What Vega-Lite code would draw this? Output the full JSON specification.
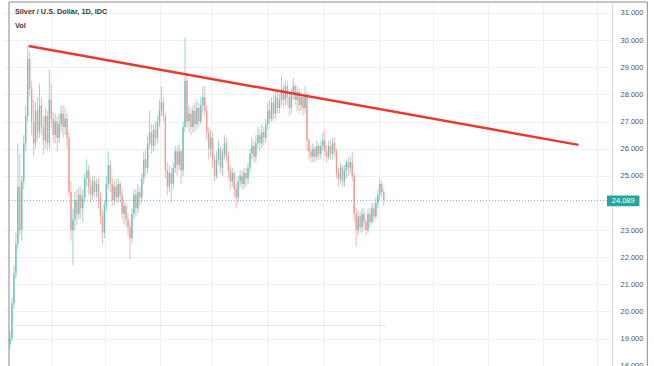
{
  "$schema": "https://vega.github.io/schema/vega-lite/v6.json",
  "width": 608,
  "height": 364,
  "autosize": "none",
  "padding": {"left": 4, "top": 2, "right": 42, "bottom": 0},
  "background": "white",
  "config": {"view": {"stroke": null}, "font": "Liberation Sans"},
  "resolve": {"axis": {"x": "independent", "y": "independent"}},
  "datasets": {
    "candles": [
      {"t":0,"o":18.8,"h":19.3,"l":18.6,"c":19.0},
      {"t":1,"o":19.0,"h":20.5,"l":18.9,"c":20.3},
      {"t":2,"o":20.3,"h":21.7,"l":20.1,"c":21.4},
      {"t":3,"o":21.4,"h":22.9,"l":21.2,"c":22.5},
      {"t":4,"o":22.5,"h":26.2,"l":22.3,"c":24.6},
      {"t":5,"o":24.6,"h":25.8,"l":22.8,"c":23.0},
      {"t":6,"o":23.0,"h":25.0,"l":22.6,"c":24.8},
      {"t":7,"o":24.8,"h":26.5,"l":24.5,"c":26.2},
      {"t":8,"o":26.2,"h":27.6,"l":25.9,"c":27.2},
      {"t":9,"o":27.2,"h":29.8,"l":27.0,"c":29.3},
      {"t":10,"o":29.3,"h":29.6,"l":27.9,"c":28.2},
      {"t":11,"o":28.2,"h":28.5,"l":26.5,"c":27.0},
      {"t":12,"o":27.0,"h":27.8,"l":25.7,"c":26.2},
      {"t":13,"o":26.2,"h":27.7,"l":26.0,"c":27.4},
      {"t":14,"o":27.4,"h":27.9,"l":26.3,"c":26.6},
      {"t":15,"o":26.6,"h":28.4,"l":26.4,"c":27.6},
      {"t":16,"o":27.6,"h":27.9,"l":26.5,"c":26.8},
      {"t":17,"o":26.8,"h":27.2,"l":25.8,"c":26.3},
      {"t":18,"o":26.3,"h":27.5,"l":26.0,"c":27.2},
      {"t":19,"o":27.2,"h":27.4,"l":25.9,"c":26.2},
      {"t":20,"o":26.2,"h":28.9,"l":26.0,"c":27.8},
      {"t":21,"o":27.8,"h":28.4,"l":26.8,"c":27.1},
      {"t":22,"o":27.1,"h":27.4,"l":26.2,"c":26.5},
      {"t":23,"o":26.5,"h":27.3,"l":26.2,"c":27.0},
      {"t":24,"o":27.0,"h":27.2,"l":25.9,"c":26.4},
      {"t":25,"o":26.4,"h":27.3,"l":26.2,"c":26.9},
      {"t":26,"o":26.9,"h":27.6,"l":26.6,"c":27.3},
      {"t":27,"o":27.3,"h":27.6,"l":26.4,"c":26.8},
      {"t":28,"o":26.8,"h":27.5,"l":26.5,"c":27.1},
      {"t":29,"o":27.1,"h":27.3,"l":26.0,"c":26.4},
      {"t":30,"o":26.4,"h":26.6,"l":24.2,"c":24.4},
      {"t":31,"o":24.4,"h":24.8,"l":22.6,"c":23.0},
      {"t":32,"o":23.0,"h":23.8,"l":21.7,"c":23.4},
      {"t":33,"o":23.4,"h":24.4,"l":23.0,"c":24.1},
      {"t":34,"o":24.1,"h":24.5,"l":23.2,"c":23.6},
      {"t":35,"o":23.6,"h":24.6,"l":23.4,"c":24.3},
      {"t":36,"o":24.3,"h":24.6,"l":23.4,"c":23.8},
      {"t":37,"o":23.8,"h":24.5,"l":23.3,"c":24.2},
      {"t":38,"o":24.2,"h":25.1,"l":24.0,"c":24.9},
      {"t":39,"o":24.9,"h":25.6,"l":24.6,"c":25.2},
      {"t":40,"o":25.2,"h":25.4,"l":24.3,"c":24.6},
      {"t":41,"o":24.6,"h":24.9,"l":24.0,"c":24.3},
      {"t":42,"o":24.3,"h":25.0,"l":24.1,"c":24.8},
      {"t":43,"o":24.8,"h":25.0,"l":24.2,"c":24.4},
      {"t":44,"o":24.4,"h":24.9,"l":24.2,"c":24.7},
      {"t":45,"o":24.7,"h":24.9,"l":23.8,"c":24.2},
      {"t":46,"o":24.2,"h":24.4,"l":23.2,"c":23.5},
      {"t":47,"o":23.5,"h":23.7,"l":22.5,"c":22.9},
      {"t":48,"o":22.9,"h":24.1,"l":22.7,"c":23.9},
      {"t":49,"o":23.9,"h":25.0,"l":23.7,"c":24.7},
      {"t":50,"o":24.7,"h":25.9,"l":24.5,"c":25.4},
      {"t":51,"o":25.4,"h":25.6,"l":24.4,"c":24.7},
      {"t":52,"o":24.7,"h":24.9,"l":23.9,"c":24.1},
      {"t":53,"o":24.1,"h":24.8,"l":23.9,"c":24.6},
      {"t":54,"o":24.6,"h":24.9,"l":24.0,"c":24.2},
      {"t":55,"o":24.2,"h":24.9,"l":24.0,"c":24.7},
      {"t":56,"o":24.7,"h":24.8,"l":24.0,"c":24.3},
      {"t":57,"o":24.3,"h":24.5,"l":23.4,"c":23.6},
      {"t":58,"o":23.6,"h":24.1,"l":23.2,"c":23.9},
      {"t":59,"o":23.9,"h":24.0,"l":23.1,"c":23.4},
      {"t":60,"o":23.4,"h":23.6,"l":22.8,"c":23.1},
      {"t":61,"o":23.1,"h":23.3,"l":21.9,"c":22.7},
      {"t":62,"o":22.7,"h":23.8,"l":22.5,"c":23.6},
      {"t":63,"o":23.6,"h":24.5,"l":23.4,"c":24.3},
      {"t":64,"o":24.3,"h":24.5,"l":23.5,"c":23.8},
      {"t":65,"o":23.8,"h":24.7,"l":23.6,"c":24.4},
      {"t":66,"o":24.4,"h":24.6,"l":23.9,"c":24.2},
      {"t":67,"o":24.2,"h":25.1,"l":24.0,"c":24.9},
      {"t":68,"o":24.9,"h":25.9,"l":24.7,"c":25.6},
      {"t":69,"o":25.6,"h":26.0,"l":25.0,"c":25.3},
      {"t":70,"o":25.3,"h":26.5,"l":25.1,"c":26.2},
      {"t":71,"o":26.2,"h":27.4,"l":26.0,"c":26.6},
      {"t":72,"o":26.6,"h":26.9,"l":25.8,"c":26.1},
      {"t":73,"o":26.1,"h":26.9,"l":25.9,"c":26.7},
      {"t":74,"o":26.7,"h":27.0,"l":26.1,"c":26.4},
      {"t":75,"o":26.4,"h":27.2,"l":26.2,"c":27.0},
      {"t":76,"o":27.0,"h":27.8,"l":26.8,"c":27.4},
      {"t":77,"o":27.4,"h":28.3,"l":27.2,"c":27.7},
      {"t":78,"o":27.7,"h":27.9,"l":27.0,"c":27.2},
      {"t":79,"o":27.2,"h":27.3,"l":24.9,"c":25.2},
      {"t":80,"o":25.2,"h":25.5,"l":24.3,"c":24.6},
      {"t":81,"o":24.6,"h":25.4,"l":24.4,"c":25.1},
      {"t":82,"o":25.1,"h":25.3,"l":24.0,"c":24.7},
      {"t":83,"o":24.7,"h":25.5,"l":24.5,"c":25.3},
      {"t":84,"o":25.3,"h":26.1,"l":25.1,"c":25.9},
      {"t":85,"o":25.9,"h":26.1,"l":25.0,"c":25.4},
      {"t":86,"o":25.4,"h":26.2,"l":25.2,"c":25.9},
      {"t":87,"o":25.9,"h":26.0,"l":24.7,"c":25.2},
      {"t":88,"o":25.2,"h":27.0,"l":25.0,"c":26.8},
      {"t":89,"o":26.8,"h":30.1,"l":26.6,"c":28.5},
      {"t":90,"o":28.5,"h":28.8,"l":26.8,"c":27.0},
      {"t":91,"o":27.0,"h":27.6,"l":26.6,"c":27.3},
      {"t":92,"o":27.3,"h":27.5,"l":26.5,"c":26.8},
      {"t":93,"o":26.8,"h":27.6,"l":26.6,"c":27.4},
      {"t":94,"o":27.4,"h":27.7,"l":26.6,"c":26.9},
      {"t":95,"o":26.9,"h":27.8,"l":26.7,"c":27.5},
      {"t":96,"o":27.5,"h":27.7,"l":26.8,"c":27.0},
      {"t":97,"o":27.0,"h":27.9,"l":26.9,"c":27.6},
      {"t":98,"o":27.6,"h":28.3,"l":27.3,"c":27.9},
      {"t":99,"o":27.9,"h":28.3,"l":27.2,"c":27.4},
      {"t":100,"o":27.4,"h":27.6,"l":26.3,"c":26.6},
      {"t":101,"o":26.6,"h":26.8,"l":25.6,"c":26.0},
      {"t":102,"o":26.0,"h":26.7,"l":25.7,"c":26.4},
      {"t":103,"o":26.4,"h":26.6,"l":25.3,"c":25.6},
      {"t":104,"o":25.6,"h":25.8,"l":24.8,"c":25.0},
      {"t":105,"o":25.0,"h":25.9,"l":24.9,"c":25.6},
      {"t":106,"o":25.6,"h":26.3,"l":25.4,"c":26.0},
      {"t":107,"o":26.0,"h":26.1,"l":25.1,"c":25.3},
      {"t":108,"o":25.3,"h":26.0,"l":25.0,"c":25.8},
      {"t":109,"o":25.8,"h":26.5,"l":25.6,"c":26.2},
      {"t":110,"o":26.2,"h":26.4,"l":25.5,"c":25.7},
      {"t":111,"o":25.7,"h":25.9,"l":24.9,"c":25.2},
      {"t":112,"o":25.2,"h":25.4,"l":24.5,"c":24.8},
      {"t":113,"o":24.8,"h":25.3,"l":24.6,"c":25.1},
      {"t":114,"o":25.1,"h":25.2,"l":24.2,"c":24.5},
      {"t":115,"o":24.5,"h":24.7,"l":23.8,"c":24.2},
      {"t":116,"o":24.2,"h":25.0,"l":24.0,"c":24.8},
      {"t":117,"o":24.8,"h":25.2,"l":24.6,"c":25.0},
      {"t":118,"o":25.0,"h":25.2,"l":24.5,"c":24.7},
      {"t":119,"o":24.7,"h":25.3,"l":24.5,"c":25.1},
      {"t":120,"o":25.1,"h":25.3,"l":24.6,"c":24.9},
      {"t":121,"o":24.9,"h":25.5,"l":24.7,"c":25.3},
      {"t":122,"o":25.3,"h":26.0,"l":25.1,"c":25.8},
      {"t":123,"o":25.8,"h":26.4,"l":25.6,"c":26.1},
      {"t":124,"o":26.1,"h":26.3,"l":25.5,"c":25.7},
      {"t":125,"o":25.7,"h":26.5,"l":25.5,"c":26.2},
      {"t":126,"o":26.2,"h":26.8,"l":26.0,"c":26.5},
      {"t":127,"o":26.5,"h":26.7,"l":25.9,"c":26.2},
      {"t":128,"o":26.2,"h":26.9,"l":26.0,"c":26.6},
      {"t":129,"o":26.6,"h":26.8,"l":26.1,"c":26.4},
      {"t":130,"o":26.4,"h":27.1,"l":26.2,"c":26.9},
      {"t":131,"o":26.9,"h":27.7,"l":26.7,"c":27.4},
      {"t":132,"o":27.4,"h":27.8,"l":26.9,"c":27.1},
      {"t":133,"o":27.1,"h":27.9,"l":27.0,"c":27.7},
      {"t":134,"o":27.7,"h":28.0,"l":27.0,"c":27.3},
      {"t":135,"o":27.3,"h":28.1,"l":27.1,"c":27.9},
      {"t":136,"o":27.9,"h":28.1,"l":27.3,"c":27.5},
      {"t":137,"o":27.5,"h":28.0,"l":27.3,"c":27.8},
      {"t":138,"o":27.8,"h":28.7,"l":27.6,"c":28.2},
      {"t":139,"o":28.2,"h":28.4,"l":27.5,"c":27.8},
      {"t":140,"o":27.8,"h":28.5,"l":27.6,"c":28.3},
      {"t":141,"o":28.3,"h":28.5,"l":27.6,"c":27.9},
      {"t":142,"o":27.9,"h":28.1,"l":27.2,"c":27.5},
      {"t":143,"o":27.5,"h":28.2,"l":27.3,"c":28.0},
      {"t":144,"o":28.0,"h":28.6,"l":27.8,"c":28.3},
      {"t":145,"o":28.3,"h":28.4,"l":27.6,"c":27.8},
      {"t":146,"o":27.8,"h":28.3,"l":27.4,"c":28.1},
      {"t":147,"o":28.1,"h":28.2,"l":27.3,"c":27.6},
      {"t":148,"o":27.6,"h":28.1,"l":27.4,"c":27.9},
      {"t":149,"o":27.9,"h":28.0,"l":27.2,"c":27.5},
      {"t":150,"o":27.5,"h":28.3,"l":27.3,"c":28.0},
      {"t":151,"o":28.0,"h":28.1,"l":25.9,"c":26.3},
      {"t":152,"o":26.3,"h":26.4,"l":25.6,"c":25.9},
      {"t":153,"o":25.9,"h":26.1,"l":25.5,"c":25.7},
      {"t":154,"o":25.7,"h":26.2,"l":25.5,"c":26.0},
      {"t":155,"o":26.0,"h":26.1,"l":25.5,"c":25.7},
      {"t":156,"o":25.7,"h":26.3,"l":25.6,"c":26.1},
      {"t":157,"o":26.1,"h":26.2,"l":25.6,"c":25.8},
      {"t":158,"o":25.8,"h":26.3,"l":25.6,"c":26.1},
      {"t":159,"o":26.1,"h":26.6,"l":25.9,"c":26.3},
      {"t":160,"o":26.3,"h":26.7,"l":25.7,"c":25.9},
      {"t":161,"o":25.9,"h":26.1,"l":25.5,"c":25.7},
      {"t":162,"o":25.7,"h":26.3,"l":25.6,"c":26.1},
      {"t":163,"o":26.1,"h":26.3,"l":25.6,"c":25.8},
      {"t":164,"o":25.8,"h":26.4,"l":25.6,"c":26.2},
      {"t":165,"o":26.2,"h":26.4,"l":25.7,"c":25.9},
      {"t":166,"o":25.9,"h":26.0,"l":24.9,"c":25.1},
      {"t":167,"o":25.1,"h":25.3,"l":24.6,"c":24.9},
      {"t":168,"o":24.9,"h":25.5,"l":24.7,"c":25.3},
      {"t":169,"o":25.3,"h":25.4,"l":24.6,"c":24.8},
      {"t":170,"o":24.8,"h":25.4,"l":24.6,"c":25.2},
      {"t":171,"o":25.2,"h":25.6,"l":24.9,"c":25.5},
      {"t":172,"o":25.5,"h":25.7,"l":25.0,"c":25.3},
      {"t":173,"o":25.3,"h":25.7,"l":25.1,"c":25.5},
      {"t":174,"o":25.5,"h":25.9,"l":24.8,"c":25.0},
      {"t":175,"o":25.0,"h":25.1,"l":23.3,"c":23.6},
      {"t":176,"o":23.6,"h":23.8,"l":22.4,"c":23.0},
      {"t":177,"o":23.0,"h":23.7,"l":22.8,"c":23.5},
      {"t":178,"o":23.5,"h":23.7,"l":22.9,"c":23.1},
      {"t":179,"o":23.1,"h":23.8,"l":22.9,"c":23.6},
      {"t":180,"o":23.6,"h":23.8,"l":23.0,"c":23.3},
      {"t":181,"o":23.3,"h":23.4,"l":22.8,"c":23.0},
      {"t":182,"o":23.0,"h":23.8,"l":22.9,"c":23.6},
      {"t":183,"o":23.6,"h":23.8,"l":23.1,"c":23.3},
      {"t":184,"o":23.3,"h":24.0,"l":23.2,"c":23.8},
      {"t":185,"o":23.8,"h":24.0,"l":23.3,"c":23.5},
      {"t":186,"o":23.5,"h":24.2,"l":23.4,"c":24.0},
      {"t":187,"o":24.0,"h":24.5,"l":23.8,"c":24.3},
      {"t":188,"o":24.3,"h":24.9,"l":24.1,"c":24.7},
      {"t":189,"o":24.7,"h":24.8,"l":24.2,"c":24.4},
      {"t":190,"o":24.4,"h":24.5,"l":23.9,"c":24.089}
    ],
    "trend": [
      {"t": 9.5, "v": 29.78},
      {"t": 289, "v": 26.14}
    ]
  },
  "layer": [
    {
      "data": {"name": "candles"},
      "mark": {"type": "rule", "strokeWidth": 0.7},
      "encoding": {
        "x": {
          "field": "t",
          "type": "quantitative",
          "scale": {"domain": [-0.5, 303.5], "nice": false, "zero": false},
          "axis": {
            "values": [21, 48.5, 76.5, 102, 131, 159, 187.5, 215.25, 243, 270.75, 298.5],
            "labels": false,
            "ticks": false,
            "domain": false,
            "title": null,
            "grid": true,
            "gridColor": "#f0f0f0",
            "gridWidth": 1
          }
        },
        "y": {
          "field": "l",
          "type": "quantitative",
          "scale": {"domain": [17.99, 31.405], "nice": false, "zero": false},
          "axis": {
            "orient": "right",
            "values": [18, 19, 20, 21, 22, 23, 25, 26, 27, 28, 29, 30, 31],
            "format": ".3f",
            "title": null,
            "ticks": false,
            "labelPadding": 8,
            "labelFontSize": 7.5,
            "labelColor": "#555555",
            "labelFont": "Liberation Sans",
            "labelOverlap": false,
            "labelBound": false,
            "labelFlush": false,
            "domainColor": "#d9d9d9",
            "grid": true,
            "gridColor": "#f0f0f0",
            "gridWidth": 1
          }
        },
        "y2": {"field": "h"},
        "color": {
          "condition": {"test": "datum.c >= datum.o", "value": "#6cc3ba"},
          "value": "#f29a96"
        }
      }
    },
    {
      "data": {"name": "candles"},
      "mark": {"type": "bar", "size": 1.4},
      "encoding": {
        "x": {"field": "t", "type": "quantitative", "axis": null},
        "y": {"field": "o", "type": "quantitative", "axis": null},
        "y2": {"field": "c"},
        "color": {
          "condition": {"test": "datum.c >= datum.o", "value": "#6cc3ba"},
          "value": "#f29a96"
        }
      }
    },
    {
      "data": {"values": [{"a": 1}]},
      "mark": {"type": "rule", "color": "#e6e6e6", "strokeWidth": 1},
      "encoding": {
        "x": {"datum": 1, "axis": null},
        "x2": {"datum": 191},
        "y": {"datum": 19.48, "axis": null}
      }
    },
    {
      "data": {"values": [{"a": 1}]},
      "mark": {"type": "rule", "color": "#26a69a", "strokeWidth": 1, "strokeDash": [1, 2], "opacity": 0.6},
      "encoding": {
        "x": {"datum": -0.5, "axis": null},
        "x2": {"datum": 303.5},
        "y": {"datum": 24.089, "axis": null}
      }
    },
    {
      "data": {"name": "trend"},
      "mark": {"type": "line", "color": "#e8392f", "strokeWidth": 2.5},
      "encoding": {
        "x": {"field": "t", "type": "quantitative", "axis": null},
        "y": {"field": "v", "type": "quantitative", "axis": null}
      }
    },
    {
      "data": {"values": [{"a": 1}]},
      "mark": {"type": "rect", "color": "#26a69a"},
      "encoding": {
        "x": {"datum": 303.5, "axis": null},
        "x2": {"datum": 320},
        "y": {"datum": 24.27, "axis": null},
        "y2": {"datum": 23.88}
      }
    },
    {
      "data": {"values": [{"label": "24.089"}]},
      "mark": {"type": "text", "color": "white", "fontSize": 7.5, "font": "Liberation Sans", "baseline": "middle", "align": "center"},
      "encoding": {
        "x": {"datum": 311.75, "axis": null},
        "y": {"datum": 24.075, "axis": null},
        "text": {"field": "label"}
      }
    },
    {
      "data": {"values": [{"label": "Silver / U.S. Dollar, 1D, IDC", "t": 2.5, "v": 30.96}, {"label": "Vol", "t": 2.5, "v": 30.45}]},
      "mark": {"type": "text", "color": "#3a3a3a", "fontSize": 7.3, "fontWeight": "bold", "font": "Liberation Sans", "align": "left", "baseline": "alphabetic"},
      "encoding": {
        "x": {"field": "t", "type": "quantitative", "axis": null},
        "y": {"field": "v", "type": "quantitative", "axis": null},
        "text": {"field": "label"}
      }
    },
    {
      "data": {"values": [{"a": 1}]},
      "mark": {"type": "rect", "fillOpacity": 0, "stroke": "#8a8a8a", "strokeWidth": 1},
      "encoding": {
        "x": {"datum": -0.5, "axis": null},
        "x2": {"datum": 324.0},
        "y": {"datum": 31.405, "axis": null},
        "y2": {"datum": 17.0}
      }
    }
  ]
}
